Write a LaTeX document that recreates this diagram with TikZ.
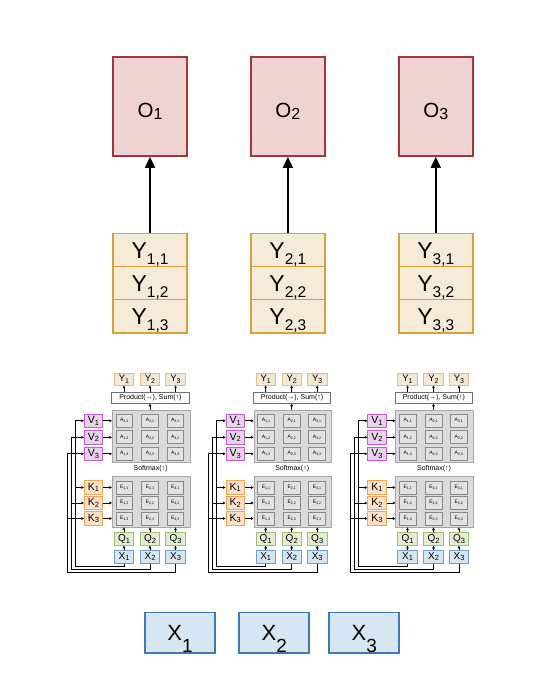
\documentclass[tikz,border=0pt]{standalone}
\usepackage{fontspec}
\setmainfont{Liberation Sans}
\usetikzlibrary{arrows.meta}
\definecolor{ofill}{HTML}{EFD2D2}
\definecolor{ostroke}{HTML}{A0353B}
\definecolor{yfill}{HTML}{F6EBD8}
\definecolor{ystroke}{HTML}{D9A03A}
\definecolor{xfill}{HTML}{D6E6F3}
\definecolor{xstroke}{HTML}{3C7BB5}
\definecolor{vfill}{HTML}{E8D2EC}
\definecolor{vstroke}{HTML}{C95BD2}
\definecolor{kfill}{HTML}{FFE2C9}
\definecolor{kstroke}{HTML}{F4A457}
\definecolor{qfill}{HTML}{E2EDD3}
\definecolor{qstroke}{HTML}{9DBE77}
\definecolor{syfill}{HTML}{F5E8D4}
\definecolor{systroke}{HTML}{E5BC82}
\definecolor{sxstroke}{HTML}{6E9ED0}
\definecolor{panelfill}{HTML}{DADADA}
\definecolor{panelstroke}{HTML}{A8A8A8}
\definecolor{cellfill}{HTML}{E2E2E2}
\definecolor{cellstroke}{HTML}{8A8A8A}
\definecolor{prodstroke}{HTML}{707070}
\newcommand\lab[5]{{\fontsize{#3}{#3}\selectfont #1}\raisebox{-#5}{\fontsize{#4}{#4}\selectfont #2}}
\begin{document}
\begin{tikzpicture}[x=1pt,y=-1pt,
  base/.style={inner sep=0pt, text depth=0pt},
  obox/.style={base, draw=ostroke, fill=ofill, line width=1.7pt, minimum width=74pt, minimum height=98.7pt, text height=21.2pt},
  ybox/.style={base, draw=ystroke, fill=yfill, line width=1.7pt, minimum width=74pt, minimum height=33.1pt, text height=17.6pt},
  xbox/.style={base, draw=xstroke, fill=xfill, line width=1.7pt, minimum width=70pt, minimum height=40.7pt, text height=16pt},
  bigarrow/.style={line width=1.6pt, -{Triangle[length=11pt,width=10pt]}},
  small/.style={inner sep=0pt, line width=0.8pt, minimum width=19.5pt},
  sybox/.style={small, draw=systroke, fill=syfill, minimum height=11.7pt},
  sqbox/.style={small, draw=qstroke, fill=qfill, minimum height=12.6pt},
  sxbox/.style={small, draw=sxstroke, fill=xfill, minimum height=13.3pt},
  vbox/.style={small, draw=vstroke, fill=vfill, minimum width=18.4pt, minimum height=13.4pt},
  kbox/.style={small, draw=kstroke, fill=kfill, minimum width=18.4pt, minimum height=13.4pt},
  panel/.style={draw=panelstroke, fill=panelfill, line width=0.8pt, minimum width=77.7pt, inner sep=0pt},
  cell/.style={draw=cellstroke, fill=cellfill, line width=0.7pt, minimum width=16.8pt, minimum height=13pt, inner sep=0pt},
  prod/.style={draw=prodstroke, fill=white, line width=0.7pt, minimum width=77.3pt, minimum height=10.6pt, inner sep=0pt, font=\fontsize{7pt}{7pt}\selectfont},
  stext/.style={inner sep=0pt, font=\fontsize{7pt}{7pt}\selectfont},
  sarrow/.style={line width=0.7pt, -{Triangle[length=2.6pt,width=2.6pt]}},
  wire/.style={line width=0.8pt, -{Triangle[length=2.6pt,width=2.6pt]}}]
\useasboundingbox (0,0) rectangle (539,681);

% top: outputs and Y stacks
\foreach \i/\cx in {1/150,2/287.9,3/435.8}{
  \node[obox] (O\i) at (\cx,106.65) {\lab{O}{\i}{20.5pt}{16pt}{2pt}};
  \node[ybox] (Y\i-1) at (\cx,249.9) {\lab{Y}{\i,1}{23pt}{15.5pt}{5.3pt}};
  \node[ybox] (Y\i-2) at (\cx,283) {\lab{Y}{\i,2}{23pt}{15.5pt}{5.3pt}};
  \node[ybox] (Y\i-3) at (\cx,316.1) {\lab{Y}{\i,3}{23pt}{15.5pt}{5.3pt}};
  \draw[bigarrow] (Y\i-1.north) -- (O\i.south);
}

% bottom inputs
\foreach \i/\cx in {1/180,2/274.3,3/364.3}{
  \node[xbox] (X\i) at (\cx,632.7) {\lab{X}{\i}{22pt}{19pt}{11.5pt}};
}

% three attention blocks
\foreach \b/\dx in {1/0,2/141.7,3/283.5}{
\begin{scope}[xshift=\dx pt]
  \node[panel, minimum height=52pt] (pa\b) at (151.2,436) {};
  \node[panel, minimum height=51pt] (pe\b) at (151.2,501.5) {};
  \node[prod] (pr\b) at (150.4,398) {Product(→), Sum(↑)};
  \node[stext] (sm\b) at (150.5,469) {Softmax(↑)};
  \foreach \i/\cx in {1/124,2/150,3/175.5}{
    \node[sybox] (sy\b-\i) at (\cx,379.2) {\lab{Y}{\i}{9.5pt}{7pt}{1.5pt}};
    \node[sqbox] (sq\b-\i) at (\cx,539) {\lab{Q}{\i}{10pt}{7.5pt}{1.5pt}};
    \node[sxbox] (sx\b-\i) at (\cx,556.7) {\lab{X}{\i}{10pt}{7.5pt}{1.5pt}};
  }
  \foreach \i/\cx in {1/124.3,2/150,3/175.3}{
    \foreach \j/\ry in {1/420.8,2/437.3,3/453.8}{
      \node[cell] (a\b-\i-\j) at (\cx,\ry) {\lab{A}{\i,\j}{5pt}{3.6pt}{1pt}};
    }
    \foreach \j/\ry in {1/487.5,2/503,3/518.5}{
      \node[cell] (e\b-\i-\j) at (\cx,\ry) {\lab{E}{\i,\j}{5pt}{3.6pt}{1pt}};
    }
  }
  \foreach \j/\ry in {1/420.8,2/437.3,3/453.8}{
    \node[vbox] (v\b-\j) at (93.5,\ry) {\lab{V}{\j}{10.5pt}{7.5pt}{1.5pt}};
    \draw[sarrow] (v\b-\j.east) -- (pa\b.west |- v\b-\j.east);
  }
  \foreach \j/\ry in {1/487.5,2/503,3/518.5}{
    \node[kbox] (k\b-\j) at (93.5,\ry) {\lab{K}{\j}{10.5pt}{7.5pt}{1.5pt}};
    \draw[sarrow] (k\b-\j.east) -- (pe\b.west |- k\b-\j.east);
  }
  \foreach \i in {1,2,3}{
    \draw[sarrow] (sx\b-\i.north) -- (sq\b-\i.south);
    \draw[sarrow] (sq\b-\i.north) -- (sq\b-\i.north |- pe\b.south);
    \draw[sarrow] (sy\b-\i.south |- pr\b.north) -- (sy\b-\i.south);
  }
  \draw[sarrow] (sy\b-2.south |- pa\b.north) -- (sy\b-2.south |- pr\b.south);
  \foreach \i/\vx/\hy in {1/75/566,2/71/569,3/67/572}{
    \coordinate (w\b-\i) at (\vx,\hy);
    \draw[wire] (sx\b-\i.south) |- (w\b-\i) |- (v\b-\i.west);
    \draw[wire] (w\b-\i |- k\b-\i.west) -- (k\b-\i.west);
  }
\end{scope}
}
\end{tikzpicture}
\end{document}
